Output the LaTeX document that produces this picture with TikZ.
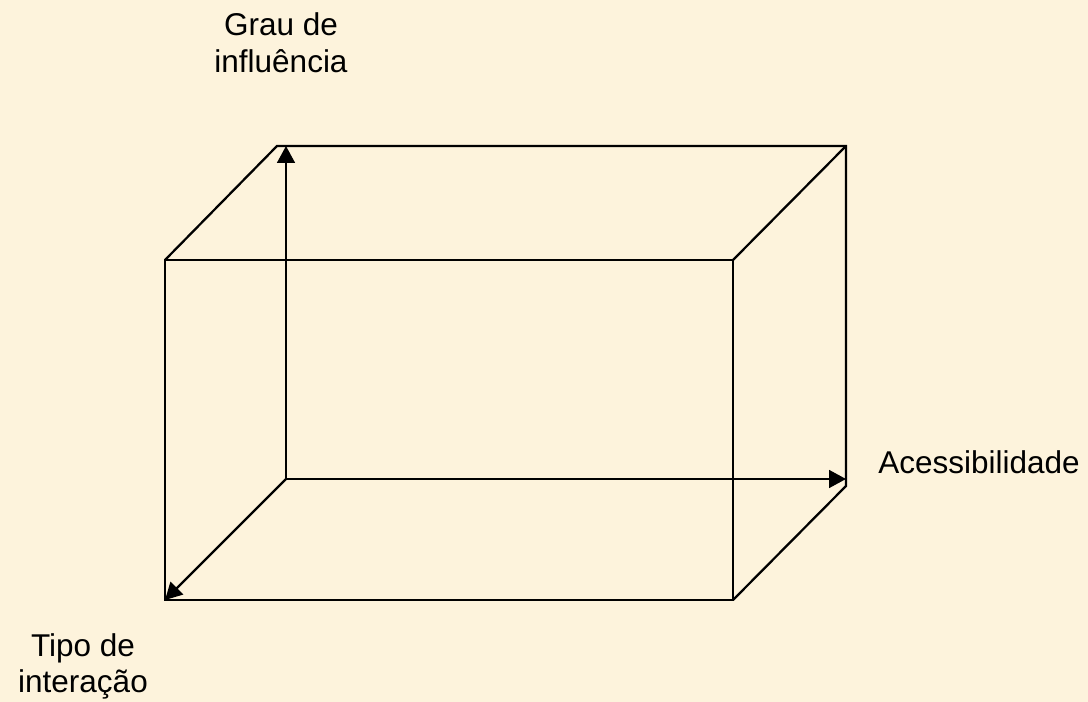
\documentclass[tikz,border=0pt]{standalone}
\usepackage{fontspec}
\setmainfont{Liberation Sans}
\usetikzlibrary{arrows.meta}
\definecolor{pergaminho}{RGB}{253,243,220}

\begin{document}
\begin{tikzpicture}[x=0.025cm, y=-0.025cm, >={Triangle[length=4.2mm, width=4.4mm]},
		aresta/.style={line width=1.6pt},
		rotulo/.style={font=\fontsize{22.4pt}{26.2pt}\selectfont, inner sep=0pt, align=center}]
		
		% 1. Fundo (fixa as margens da figura)
		\fill[pergaminho] (0,0) rectangle (1088,702);
		
		% 2. Vertices do paralelepipedo e origem dos eixos
		\coordinate (fTL) at (165,260);
		\coordinate (fTR) at (733,260);
		\coordinate (fBR) at (733,600);
		\coordinate (fBL) at (165,600);
		\coordinate (bTL) at (277,146);
		\coordinate (bTR) at (846,146);
		\coordinate (bBR) at (846,486);
		\coordinate (O) at (286,479);
		\coordinate (eixoY) at (286,146);
		\coordinate (eixoX) at (846,479);
		
		% 3. Arestas visiveis
		\draw[aresta] (fTL) -- (fTR) -- (fBR) -- (fBL) -- cycle;
		\draw[aresta] (fTL) -- (bTL) -- (bTR) -- (bBR) -- (fBR);
		\draw[aresta] (fTR) -- (bTR);
		
		% 4. Eixos a partir da origem
		\draw[aresta, ->] (O) -- (eixoY);
		\draw[aresta, ->] (O) -- (eixoX);
		\draw[aresta, ->] (O) -- (fBL);
		
		% 5. Rotulos dos eixos
		\node[rotulo] (grau) at (281,43) {Grau de\\influência};
		\node[rotulo, anchor=base west] (acess) at (878,473) {Acessibilidade};
		\node[rotulo] (tipo) at (83,666.5) {Tipo de\\interação};
		
	\end{tikzpicture}
\end{document}
